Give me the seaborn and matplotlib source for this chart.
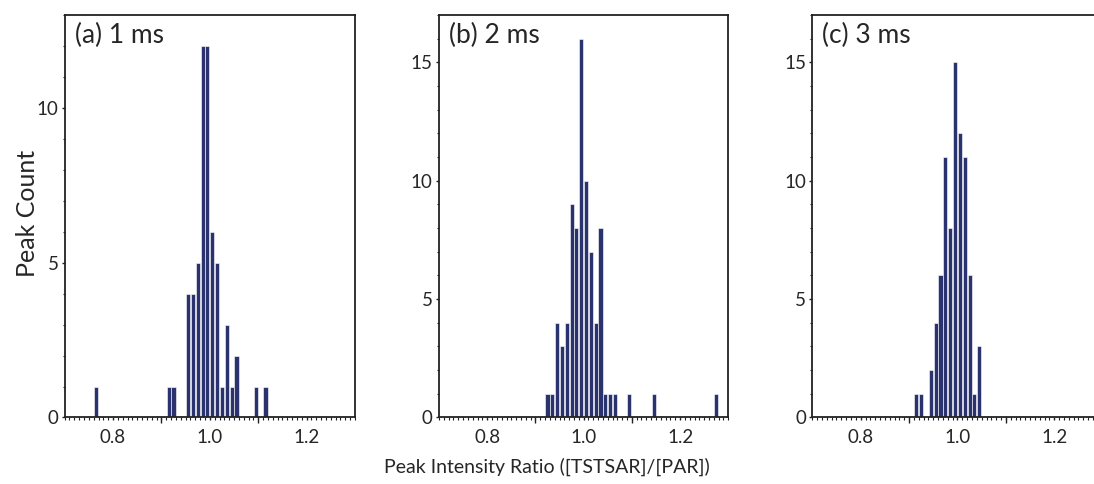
import numpy as np
import pandas as pd
import matplotlib
matplotlib.use("Agg")
import matplotlib.pyplot as plt
from matplotlib.ticker import MultipleLocator, FixedLocator, NullFormatter
import seaborn as sns

# ---- data (bin centres of 0.01-wide bins, and peak counts) ----
ratio_1ms = [0.765, 0.915, 0.925, 0.955, 0.965, 0.975, 0.985, 0.995, 1.005,
             1.015, 1.025, 1.035, 1.045, 1.055, 1.095, 1.115]
count_1ms = [1, 1, 1, 4, 4, 5, 12, 12, 6, 5, 1, 3, 1, 2, 1, 1]

ratio_2ms = [0.925, 0.935, 0.945, 0.955, 0.965, 0.975, 0.985, 0.995, 1.005,
             1.015, 1.025, 1.035, 1.045, 1.055, 1.065, 1.095, 1.145, 1.275]
count_2ms = [1, 1, 4, 3, 4, 9, 8, 16, 10, 7, 4, 8, 1, 1, 1, 1, 1, 1]

ratio_3ms = [0.915, 0.925, 0.945, 0.955, 0.965, 0.975, 0.985, 0.995, 1.005,
             1.015, 1.025, 1.035, 1.045]
count_3ms = [1, 1, 2, 4, 6, 11, 8, 15, 12, 11, 6, 1, 3]

panel_labels = ["(a) 1 ms", "(b) 2 ms", "(c) 3 ms"]
y_limits = [13, 17, 17]
x_tick_values = [0.8, 1.0, 1.2]
x_tick_labels = ["0.8", "1.0", "1.2"]

bar_color = "#2B336E"

sns.set_style("ticks")
plt.rcParams["font.family"] = ["Lato", "DejaVu Sans"]

fig = plt.figure(figsize=(10.94, 4.84), dpi=100)
positions = [
    [0.0591, 0.1374, 0.2654, 0.8316],
    [0.4013, 0.1374, 0.2644, 0.8316],
    [0.7425, 0.1374, 0.2654, 0.8316],
]

series = [(ratio_1ms, count_1ms), (ratio_2ms, count_2ms), (ratio_3ms, count_3ms)]

for i, (pos, (xs, ws)) in enumerate(zip(positions, series)):
    ax = fig.add_axes(pos)
    df = pd.DataFrame({"ratio": xs, "count": ws})
    sns.histplot(data=df, x="ratio", weights="count", binwidth=0.01,
                 binrange=(0.7, 1.3), shrink=0.85, color=bar_color,
                 edgecolor="white", linewidth=0.4, alpha=1.0, ax=ax)
    ax.set_xlim(0.7, 1.3)
    ax.set_ylim(0, y_limits[i])
    ax.set_xlabel("")
    ax.set_ylabel("")
    for s in ax.spines.values():
        s.set_visible(True)
        s.set_linewidth(1.3)
        s.set_color("#222222")
    ax.set_xticks(x_tick_values)
    ax.set_xticklabels(x_tick_labels)
    ax.xaxis.set_minor_locator(MultipleLocator(0.01))
    ax.yaxis.set_major_locator(MultipleLocator(5))
    ax.yaxis.set_minor_locator(MultipleLocator(1))
    ax.tick_params(axis="both", which="major", direction="out", length=2.5,
                   width=1.0, labelsize=13.5, pad=2, color="#222222")
    ax.tick_params(axis="both", which="minor", direction="out", length=1.8,
                   width=0.8, color="#222222")
    ax.tick_params(axis="x", which="major", pad=6)
    # longer tick marks at 0.9 and 1.1
    sec = ax.secondary_xaxis("bottom")
    sec.xaxis.set_major_locator(FixedLocator([0.9, 1.1]))
    sec.xaxis.set_major_formatter(NullFormatter())
    sec.tick_params(axis="x", which="major", direction="out", length=4,
                    width=1.0, color="#222222")
    sec.tick_params(axis="x", which="minor", length=0)
    sec.spines["bottom"].set_visible(False)
    ax.text(0.035, 0.95, panel_labels[i], transform=ax.transAxes,
            ha="left", va="center", fontsize=19)

fig.text(0.025, 0.56, "Peak Count", rotation=90, ha="center", va="center",
         fontsize=18)
fig.text(0.50, 0.035, "Peak Intensity Ratio ([TSTSAR]/[PAR])", ha="center",
         va="center", fontsize=14)

fig.savefig("out.png", dpi=100)
